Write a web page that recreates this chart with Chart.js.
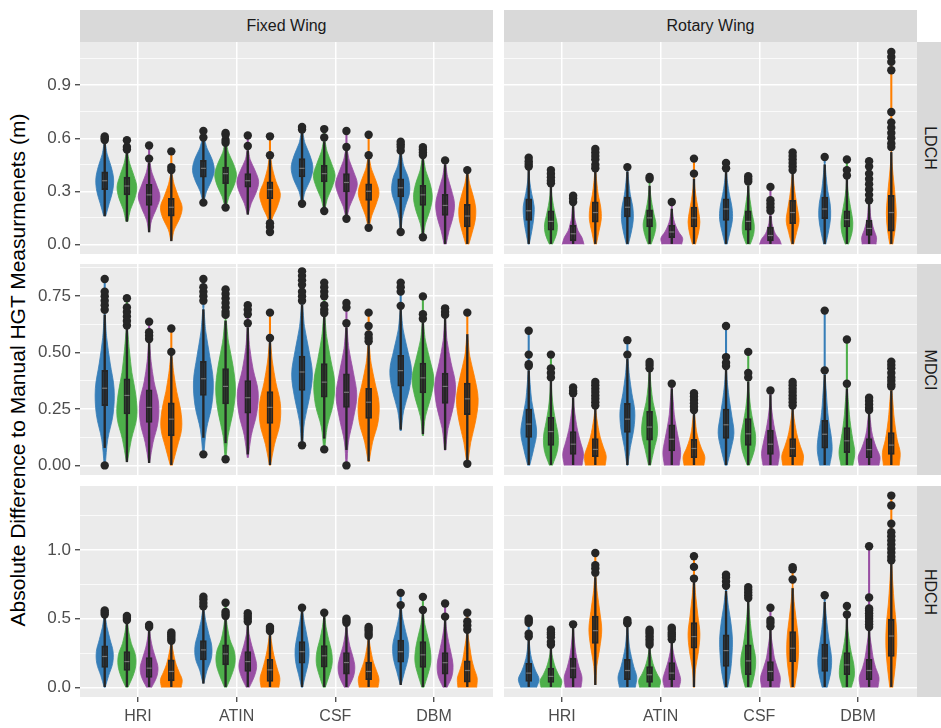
<!DOCTYPE html>
<html>
<head>
<meta charset="utf-8">
<script src="https://cdn.jsdelivr.net/npm/chart.js@4.4.1/dist/chart.umd.min.js"></script>
<style>
  body { margin: 0; width: 941px; height: 728px; overflow: hidden; background: #fff; position: relative;
         font-family: "Liberation Sans", Arial, sans-serif; }
  canvas { position: absolute; }
  .strip { position: absolute; background: #d9d9d9; color: #1a1a1a; font-size: 16px;
           display: flex; align-items: center; justify-content: center; }
  .strip.side span { transform: rotate(90deg); white-space: nowrap; }
  #ytitle { position: absolute; left: -332px; top: 358px; width: 700px; height: 24px; line-height: 24px;
            text-align: center; transform: rotate(-90deg); white-space: nowrap; font-size: 21px; color: #000; }
</style>
</head>
<body>
<div id="ytitle">Absolute Difference to Manual HGT Measurmenets (m)</div>

<script>
const categories = ["HRI", "ATIN", "CSF", "DBM"];
const wingTypes = ["Fixed Wing", "Rotary Wing"];
const metrics = ["LDCH", "MDCI", "HDCH"];

// y axis ticks per row
const ticksLDCH = [0, 0.3, 0.6, 0.9];
const labelsLDCH = ["0.0", "0.3", "0.6", "0.9"];
const ticksMDCI = [0, 0.25, 0.5, 0.75];
const labelsMDCI = ["0.00", "0.25", "0.50", "0.75"];
const ticksHDCH = [0, 0.5, 1.0];
const labelsHDCH = ["0.0", "0.5", "1.0"];

// one entry per violin, 4 per category (blue, green, purple, orange):
// [violin bottom, violin top, widths at 6 levels (x-units * 100),
//  [whisker low, q1, median, q3, whisker high], outliers]
const fixedLDCH = [
    [.16, .58, [2, 9, 16, 18, 13, 5], [.16, .31, .36, .41, .57], [.59, .60, .61]],
    [.13, .52, [2, 7, 16, 20, 14, 6], [.13, .28, .33, .38, .52], [.536, .551, .589]],
    [.07, .47, [1, 5, 15, 22, 15, 6], [.07, .22, .28, .34, .46], [.485, .559]],
    [.02, .40, [1, 6, 17, 22, 14, 6], [.02, .16, .21, .26, .40], [.42, .437, .526]],
    [.236, .60, [1, 6, 16, 22, 18, 8], [.25, .38, .43, .475, .59], [.236, .604, .641]],
    [.208, .58, [1, 7, 17, 22, 16, 6], [.22, .343, .40, .437, .56], [.208, .575, .59, .62, .63]],
    [.17, .54, [1, 7, 17, 22, 15, 5], [.17, .324, .36, .40, .53], [.556, .616]],
    [.07, .50, [1, 4, 15, 21, 12, 5], [.14, .258, .31, .353, .48], [.07, .098, .12, .504, .611]],
    [.23, .64, [1, 6, 17, 22, 16, 6], [.24, .381, .43, .485, .63], [.23, .649, .664]],
    [.189, .59, [1, 6, 16, 22, 15, 6], [.19, .353, .40, .447, .58], [.189, .604, .652]],
    [.145, .54, [1, 6, 16, 22, 15, 6], [.16, .296, .35, .40, .53], [.145, .551, .641]],
    [.094, .49, [1, 6, 15, 21, 15, 6], [.12, .249, .30, .343, .48], [.094, .504, .62]],
    [.07, .52, [1, 3, 10, 18, 16, 6], [.08, .268, .32, .371, .51], [.07, .53, .55, .565, .58]],
    [.04, .49, [1, 5, 14, 19, 15, 6], [.05, .22, .28, .334, .49], [.04, .505, .52, .535, .55]],
    [0, .46, [2, 8, 16, 19, 13, 5], [0, .164, .22, .283, .45], [.475]],
    [0, .41, [3, 10, 16, 17, 12, 5], [0, .098, .16, .226, .40], [.42]]
];

const rotaryLDCH = [
    [0, .43, [1, 6, 10, 11, 6, 2], [0, .136, .19, .258, .42], [.44, .455, .47, .49]],
    [0, .33, [3, 11, 13, 9, 5, 2], [0, .08, .13, .19, .33], [.345, .36, .38, .40, .42]],
    [0, .23, [22, 18, 10, 6, 3, 2], [0, .02, .06, .107, .22], [.24, .26, .275]],
    [0, .42, [2, 7, 12, 11, 6, 3], [0, .126, .18, .24, .41], [.43, .45, .48, .50, .52, .54]],
    [0, .42, [2, 8, 12, 11, 6, 3], [0, .155, .21, .268, .41], [.437]],
    [0, .34, [3, 10, 13, 9, 5, 2], [0, .098, .15, .196, .33], [.37, .381]],
    [0, .21, [20, 22, 14, 8, 4, 2], [0, .038, .07, .108, .20], [.24]],
    [0, .38, [3, 9, 12, 9, 5, 2], [0, .098, .15, .211, .37], [.40, .485]],
    [0, .42, [2, 8, 13, 12, 7, 3], [0, .136, .20, .258, .41], [.43, .46]],
    [0, .34, [4, 11, 12, 8, 5, 2], [0, .08, .13, .19, .33], [.355, .37, .385]],
    [0, .18, [22, 18, 10, 6, 3, 2], [0, .02, .05, .098, .16], [.19, .21, .23, .25, .325]],
    [0, .40, [2, 8, 13, 10, 6, 3], [0, .117, .18, .249, .40], [.42, .44, .46, .48, .50, .52]],
    [0, .46, [2, 8, 12, 11, 6, 3], [0, .145, .20, .268, .45], [.494]],
    [0, .37, [3, 10, 12, 9, 5, 2], [0, .098, .14, .19, .37], [.39, .42, .48]],
    [0, .24, [14, 15, 10, 6, 3, 2], [0, .05, .09, .136, .24], [.25, .28, .31, .34, .37, .40, .44, .47]],
    [0, .53, [3, 8, 10, 8, 5, 2], [0, .075, .18, .277, .52], [.55, .57, .60, .63, .66, .69, .749, .985, 1.032, 1.06, 1.088]]
];

const fixedMDCI = [
    [0, .68, [1, 6, 17, 19, 11, 4], [.079, .265, .342, .421, .667], [0, .69, .71, .73, .75, .77, .826]],
    [.016, .61, [1, 9, 20, 18, 10, 5], [.016, .228, .31, .384, .61], [.62, .64, .66, .68, .70, .741]],
    [.012, .55, [1, 8, 18, 19, 10, 4], [.012, .19, .257, .335, .55], [.56, .575, .59, .637]],
    [0, .49, [2, 12, 21, 19, 11, 5], [0, .131, .205, .277, .49], [.503, .607]],
    [.049, .70, [1, 6, 17, 20, 13, 5], [.124, .31, .384, .461, .69], [.049, .73, .75, .77, .79, .826]],
    [.027, .65, [1, 5, 15, 20, 15, 6], [.10, .272, .35, .429, .64], [.027, .667, .68, .70, .72, .74, .76, .78]],
    [.034, .62, [1, 7, 18, 21, 11, 4], [.05, .231, .30, .376, .61], [.63, .67, .69, .71]],
    [0, .55, [1, 9, 20, 21, 12, 5], [0, .186, .257, .327, .55], [.565, .677]],
    [.089, .72, [1, 5, 15, 21, 14, 5], [.11, .332, .414, .484, .71], [.089, .73, .75, .77, .80, .82, .84, .86]],
    [.071, .67, [1, 6, 18, 21, 13, 5], [.12, .302, .369, .451, .66], [.071, .675, .69, .71, .75, .77, .79, .81]],
    [0, .62, [1, 4, 14, 21, 14, 5], [.07, .257, .324, .406, .61], [0, .63, .70, .72]],
    [.016, .54, [1, 8, 19, 21, 13, 5], [.02, .208, .28, .342, .54], [.55, .565, .58, .618, .677]],
    [.153, .69, [1, 6, 17, 22, 14, 5], [.16, .351, .42, .488, .69], [.707, .77, .79, .81]],
    [.131, .64, [1, 5, 16, 22, 14, 5], [.14, .321, .388, .454, .63], [.65, .67, .749]],
    [.067, .65, [1, 6, 17, 21, 12, 4], [.07, .275, .35, .409, .65], [.667, .68, .696]],
    [.007, .58, [1, 7, 17, 22, 15, 5], [.02, .225, .295, .365, .58], [.007, .677]]
];

const rotaryMDCI = [
    [0, .43, [2, 10, 16, 12, 6, 3], [0, .124, .183, .25, .42], [.44, .448, .491, .597]],
    [0, .38, [3, 13, 15, 10, 5, 2], [0, .089, .15, .213, .38], [.39, .41, .43, .491]],
    [0, .31, [18, 21, 15, 9, 5, 2], [0, .049, .094, .15, .30], [.32, .33, .345]],
    [0, .25, [20, 22, 16, 10, 6, 3], [0, .039, .071, .119, .25], [.265, .28, .295, .31, .325, .34, .355, .37]],
    [0, .48, [1, 6, 13, 15, 9, 4], [0, .146, .205, .275, .47], [.491, .555]],
    [0, .42, [2, 9, 16, 14, 7, 3], [0, .112, .17, .24, .42], [.43, .445, .458]],
    [0, .34, [15, 18, 14, 9, 5, 3], [0, .064, .116, .18, .34], [.362]],
    [0, .23, [20, 22, 15, 9, 5, 3], [0, .034, .075, .116, .23], [.245, .26, .275, .29, .305, .32]],
    [0, .43, [2, 10, 16, 12, 7, 3], [0, .12, .18, .25, .43], [.44, .455, .48, .618]],
    [0, .38, [2, 12, 15, 10, 5, 2], [0, .089, .14, .208, .37], [.39, .41, .503]],
    [0, .31, [15, 18, 14, 9, 5, 2], [0, .049, .094, .156, .31], [.332]],
    [0, .25, [20, 22, 16, 10, 6, 3], [0, .039, .075, .119, .25], [.265, .28, .295, .31, .325, .34, .355, .37]],
    [0, .40, [10, 15, 13, 8, 5, 3], [0, .076, .138, .20, .40], [.421, .686]],
    [0, .34, [12, 16, 12, 8, 5, 3], [0, .057, .109, .168, .34], [.362, .558]],
    [0, .23, [20, 22, 15, 9, 5, 3], [0, .034, .07, .119, .23], [.245, .255, .27, .285, .30]],
    [0, .34, [16, 18, 12, 8, 5, 3], [0, .049, .09, .146, .33], [.35, .36, .375, .39, .41, .43, .445, .46]]
];

const fixedHDCH = [
    [0, .52, [1, 8, 16, 17, 11, 5], [0, .145, .225, .302, .51], [.53, .545, .56]],
    [0, .48, [2, 12, 18, 17, 9, 4], [0, .123, .188, .261, .47], [.49, .505, .52]],
    [0, .43, [5, 15, 18, 13, 7, 3], [0, .072, .14, .217, .42], [.44, .455]],
    [0, .33, [20, 22, 16, 10, 6, 3], [0, .048, .116, .20, .32], [.34, .355, .37, .385, .40]],
    [.03, .57, [1, 7, 16, 17, 11, 5], [.03, .20, .273, .34, .57], [.59, .615, .64, .66]],
    [0, .52, [2, 12, 19, 18, 9, 4], [0, .164, .244, .309, .50], [.52, .535, .55, .616]],
    [0, .46, [3, 13, 18, 14, 8, 3], [0, .116, .188, .261, .46], [.48, .50, .52, .54]],
    [0, .40, [18, 20, 15, 10, 6, 3], [0, .043, .128, .205, .39], [.41, .425, .44]],
    [0, .56, [1, 7, 13, 14, 10, 5], [0, .176, .26, .333, .55], [.58]],
    [0, .52, [2, 10, 16, 15, 9, 4], [0, .147, .23, .304, .52], [.543]],
    [0, .45, [4, 14, 17, 13, 7, 3], [0, .097, .181, .254, .45], [.47, .485, .50]],
    [0, .36, [19, 21, 16, 10, 6, 3], [0, .056, .116, .184, .36], [.375, .39, .41, .425, .44]],
    [.02, .60, [1, 8, 15, 16, 10, 4], [.02, .184, .26, .345, .58], [.599, .688]],
    [0, .55, [2, 10, 16, 15, 10, 4], [0, .145, .237, .333, .55], [.563, .659]],
    [0, .50, [4, 14, 16, 12, 7, 3], [0, .097, .18, .254, .50], [.515, .611]],
    [0, .41, [19, 20, 14, 9, 6, 3], [0, .039, .123, .193, .40], [.42, .45, .48, .543]]
];

const rotaryHDCH = [
    [0, .36, [16, 21, 14, 8, 4, 2], [0, .043, .104, .176, .35], [.37, .39, .47, .485, .50]],
    [0, .29, [20, 22, 15, 9, 5, 2], [0, .036, .08, .14, .29], [.31, .33, .365, .385, .40, .42]],
    [0, .44, [16, 18, 12, 7, 4, 2], [0, .068, .14, .213, .43], [.459]],
    [.02, .82, [1, 3, 9, 13, 9, 4], [.02, .321, .413, .519, .80], [.835, .865, .89, .978]],
    [0, .45, [16, 19, 13, 8, 4, 2], [0, .056, .123, .205, .44], [.466, .475, .49]],
    [0, .30, [20, 22, 15, 9, 5, 2], [0, .036, .092, .152, .30], [.31, .33, .35, .37, .39, .405, .42]],
    [0, .34, [15, 18, 14, 9, 5, 2], [0, .056, .104, .181, .33], [.35, .37, .385, .40, .42, .435]],
    [0, .78, [1, 3, 9, 12, 8, 4], [0, .285, .37, .471, .77], [.792, .877, .954]],
    [0, .70, [3, 9, 12, 13, 10, 5], [0, .152, .268, .382, .70], [.74, .77, .80, .82]],
    [0, .62, [6, 13, 15, 10, 6, 3], [0, .092, .193, .309, .62], [.65, .67, .69, .71, .73]],
    [0, .43, [18, 20, 14, 8, 5, 2], [0, .048, .116, .188, .42], [.445, .47, .49, .58]],
    [0, .75, [4, 9, 12, 11, 7, 3], [0, .188, .285, .406, .72], [.785, .86, .875]],
    [0, .63, [5, 12, 14, 10, 6, 3], [0, .116, .213, .316, .62], [.671]],
    [0, .50, [9, 15, 14, 9, 5, 2], [0, .092, .164, .254, .50], [.531, .592]],
    [0, .44, [18, 20, 13, 8, 5, 2], [0, .056, .123, .205, .43], [.44, .46, .48, .50, .52, .54, .56, .575, .655, 1.027]],
    [0, .91, [3, 8, 11, 10, 6, 3], [0, .225, .374, .495, .90], [.925, .95, .98, 1.01, 1.04, 1.07, 1.10, 1.13, 1.191, 1.324, 1.396]]
];

// ---- styling / layout ----
const colors = ["#377eb8", "#4daf4a", "#984ea3", "#ff7f00"];
const dodge = [-0.3375, -0.1125, 0.1125, 0.3375];
const colLeft = [80, 504];
const colWidth = 413;
const rowTop = [42, 264, 486];
const rowHeight = [212, 211, 211];
const rowAxes = [
    { ticks: ticksLDCH, labels: labelsLDCH, min: -0.0545, max: 1.1445 },
    { ticks: ticksMDCI, labels: labelsMDCI, min: -0.0425, max: 0.8925 },
    { ticks: ticksHDCH, labels: labelsHDCH, min: -0.0698, max: 1.4658 }
];
const panelData = [[fixedLDCH, rotaryLDCH], [fixedMDCI, rotaryMDCI], [fixedHDCH, rotaryHDCH]];

Chart.defaults.font.family = '"Liberation Sans", Arial, sans-serif';

const panelBackground = {
    id: "panelBackground",
    beforeDraw(chart) {
        const { ctx, chartArea: a } = chart;
        ctx.save();
        ctx.fillStyle = "#ebebeb";
        ctx.fillRect(a.left, a.top, a.right - a.left, a.bottom - a.top);
        ctx.restore();
    }
};

function buildDatasets(violins) {
    const sets = [];
    const outliers = [], medians = [], boxes = [], whiskers = [], tails = [], tailColors = [];

    violins.forEach((v, i) => {
        const [lo, top, widths, stats, outs] = v;
        const m = i % 4;
        const cx = Math.floor(i / 4) + 1 + dodge[m];
        const step = (top - lo) / widths.length;
        const left = widths.map((w, k) => ({ x: cx - w / 200, y: lo + k * step }));
        const right = widths.map((w, k) => ({ x: cx + w / 200, y: lo + k * step })).reverse();

        sets.push({
            type: "scatter",
            data: [...left, { x: cx, y: top }, ...right],
            showLine: true,
            fill: "shape",
            tension: 0.35,
            backgroundColor: colors[m],
            borderColor: colors[m],
            borderWidth: 0.8,
            pointRadius: 0,
            order: 5
        });

        const hi = Math.max(top, ...outs);
        if (hi > top) {
            tails.push({ x: cx, y: [top, hi] });
            tailColors.push(colors[m]);
        }
        whiskers.push({ x: cx, y: [stats[0], stats[4]] });
        boxes.push({ x: cx, y: [stats[1], stats[3]] });
        medians.push({ x: cx, y: stats[2] });
        outs.forEach(o => outliers.push({ x: cx, y: o }));
    });

    sets.push({ type: "bar", data: tails, backgroundColor: tailColors, barThickness: 1.4, grouped: false, order: 4 });
    sets.push({ type: "bar", data: whiskers, backgroundColor: "#262626", barThickness: 1.7, grouped: false, order: 3 });
    sets.push({
        type: "bar", data: boxes, backgroundColor: "rgba(38,38,38,0.55)", borderColor: "#262626",
        borderWidth: 1.2, borderSkipped: false, barThickness: 6, grouped: false, order: 2
    });
    sets.push({
        type: "scatter", data: medians, pointStyle: "line", pointRadius: 2.5,
        borderColor: "#777777", borderWidth: 1.2, order: 1
    });
    sets.push({
        type: "scatter", data: outliers, pointRadius: 4.2, backgroundColor: "#262626",
        borderWidth: 0, order: 0
    });
    return sets;
}

function makePanel(row, col) {
    const isLeft = col === 0;
    const isBottom = row === 2;
    const axis = rowAxes[row];
    const step = axis.ticks[1] - axis.ticks[0];
    const minors = axis.ticks.map(t => t + step / 2).filter(t => t <= axis.max);
    if (axis.ticks[0] - step / 2 >= axis.min) minors.push(axis.ticks[0] - step / 2);
    const isMajor = v => axis.ticks.some(t => Math.abs(t - v) < 1e-9);

    const canvas = document.createElement("canvas");
    const left = isLeft ? 0 : colLeft[col];
    const width = isLeft ? colLeft[0] + colWidth : colWidth;
    const height = isBottom ? 728 - rowTop[row] : rowHeight[row];
    canvas.width = width;
    canvas.height = height;
    canvas.style.left = left + "px";
    canvas.style.top = rowTop[row] + "px";
    document.body.appendChild(canvas);

    new Chart(canvas.getContext("2d"), {
        type: "scatter",
        data: { datasets: buildDatasets(panelData[row][col]) },
        plugins: [panelBackground],
        options: {
            responsive: false,
            animation: false,
            events: [],
            layout: { padding: 0, autoPadding: false },
            plugins: { legend: { display: false }, tooltip: { enabled: false } },
            scales: {
                x: {
                    type: "linear",
                    min: 0.412,
                    max: 4.598,
                    offset: false,
                    afterBuildTicks: s => { s.ticks = categories.map((c, i) => ({ value: i + 1 })); },
                    afterFit: s => {
                        s.height = isBottom ? 728 - rowTop[2] - rowHeight[2] : 0;
                        s.paddingLeft = 0; s.paddingRight = 0; s.paddingTop = 0; s.paddingBottom = 0;
                    },
                    ticks: {
                        display: isBottom, autoSkip: false, maxRotation: 0, padding: 5,
                        color: "#4d4d4d", font: { size: 16 },
                        callback: v => categories[Math.round(v) - 1]
                    },
                    grid: {
                        color: "#ffffff", lineWidth: 1.5, offset: false,
                        drawTicks: isBottom, tickLength: 5, tickColor: "#333333", tickWidth: 1.2
                    },
                    border: { display: false }
                },
                y: {
                    type: "linear",
                    min: axis.min,
                    max: axis.max,
                    afterBuildTicks: s => {
                        s.ticks = [...axis.ticks, ...minors].sort((a, b) => a - b).map(v => ({ value: v }));
                    },
                    afterFit: s => {
                        s.width = isLeft ? colLeft[0] : 0;
                        s.paddingLeft = 0; s.paddingRight = 0; s.paddingTop = 0; s.paddingBottom = 0;
                    },
                    ticks: {
                        display: isLeft, autoSkip: false, padding: 4,
                        color: "#4d4d4d", font: { size: 17 },
                        callback: v => {
                            const k = axis.ticks.findIndex(t => Math.abs(t - v) < 1e-9);
                            return k >= 0 ? axis.labels[k] : "";
                        }
                    },
                    grid: {
                        color: "#ffffff",
                        lineWidth: c => (c.tick && isMajor(c.tick.value) ? 1.5 : 0.75),
                        drawTicks: isLeft,
                        tickLength: 5,
                        tickWidth: 1.2,
                        tickColor: c => (c.tick && isMajor(c.tick.value) ? "#333333" : "rgba(0,0,0,0)")
                    },
                    border: { display: false }
                }
            }
        }
    });
}

function addStrip(text, x, y, w, h, side) {
    const d = document.createElement("div");
    d.className = "strip" + (side ? " side" : "");
    d.style.left = x + "px";
    d.style.top = y + "px";
    d.style.width = w + "px";
    d.style.height = h + "px";
    const s = document.createElement("span");
    s.textContent = text;
    d.appendChild(s);
    document.body.appendChild(d);
}

for (let r = 0; r < 3; r++) {
    for (let c = 0; c < 2; c++) makePanel(r, c);
    addStrip(metrics[r], colLeft[1] + colWidth, rowTop[r], 26, rowHeight[r], true);
}
wingTypes.forEach((w, c) => addStrip(w, colLeft[c], 10, colWidth, 32, false));
</script>
</body>
</html>
